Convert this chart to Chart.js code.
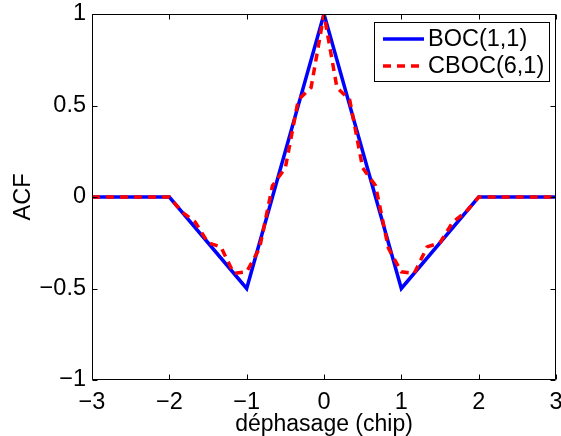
<!DOCTYPE html>
<html>
<head>
<meta charset="utf-8">
<script src="https://cdn.jsdelivr.net/npm/chart.js@4.4.1/dist/chart.umd.min.js"></script>
<style>
  html, body { margin: 0; padding: 0; background: #ffffff; }
  #wrap { width: 561px; height: 436px; }
</style>
</head>
<body>
<div id="wrap"><canvas id="c" width="561" height="436"></canvas></div>
<script>
// ---- data ----
const seriesLabels = ['BOC(1,1)', 'CBOC(6,1)'];
const bocX = [-3, -2, -1, 0, 1, 2, 3];
const bocY = [0, 0, -0.5, 1, -0.5, 0, 0];
const cbocX = [-3, -2, -1.833, -1.667, -1.5, -1.333, -1.167, -1, -0.833, -0.667, -0.5, -0.333, -0.167,
               0, 0.167, 0.333, 0.5, 0.667, 0.833, 1, 1.167, 1.333, 1.5, 1.667, 1.833, 2, 3];
const cbocY = [0, 0, -0.083, -0.136, -0.25, -0.273, -0.417, -0.409, -0.28, 0.061, 0.159, 0.53, 0.598,
               1, 0.598, 0.53, 0.159, 0.061, -0.28, -0.409, -0.417, -0.273, -0.25, -0.136, -0.083, 0, 0];
const xTickLabels = ['\u22123', '\u22122', '\u22121', '0', '1', '2', '3'];
const yTickLabels = ['\u22121', '\u22120.5', '0', '0.5', '1'];
const xTitle = 'déphasage (chip)';
const yTitle = 'ACF';

const FONT = 'Liberation Sans, Arial, Helvetica, sans-serif';
const FS = 23.5;

function toPts(xs, ys) { return xs.map((x, i) => ({ x: x, y: ys[i] })); }

// frame + inward tick marks (MATLAB "box on" style)
const framePlugin = {
  id: 'frame',
  afterDatasetsDraw(chart) {
    const { ctx, chartArea: a, scales } = chart;
    ctx.save();
    ctx.strokeStyle = '#000';
    ctx.lineWidth = 1;
    ctx.setLineDash([]);
    ctx.beginPath();
    const L = Math.round(a.left) + 0.5, R = Math.round(a.right) - 0.5;
    const T = Math.round(a.top) + 0.5, B = Math.round(a.bottom) - 0.5;
    ctx.rect(L, T, R - L, B - T);
    const tl = 5;
    scales.x.ticks.forEach(t => {
      const px = Math.round(scales.x.getPixelForValue(t.value)) + 0.5;
      ctx.moveTo(px, B); ctx.lineTo(px, B - tl);
      ctx.moveTo(px, T); ctx.lineTo(px, T + tl);
    });
    scales.y.ticks.forEach(t => {
      const py = Math.round(scales.y.getPixelForValue(t.value)) + 0.5;
      ctx.moveTo(L, py); ctx.lineTo(L + tl, py);
      ctx.moveTo(R, py); ctx.lineTo(R - tl, py);
    });
    ctx.stroke();
    ctx.restore();
  }
};

// legend box in the upper-right corner of the plot, built from the datasets
const legendPlugin = {
  id: 'boxLegend',
  afterDraw(chart) {
    const { ctx, chartArea: a } = chart;
    const ds = chart.data.datasets;
    ctx.save();
    ctx.font = FS + 'px ' + FONT;
    const boxR = a.right - 7, boxT = a.top + 8;
    const boxW = 175, boxH = 59;
    const boxL = boxR - boxW;
    ctx.fillStyle = '#fff';
    ctx.fillRect(boxL, boxT, boxW, boxH);
    ctx.strokeStyle = '#000';
    ctx.lineWidth = 1;
    ctx.setLineDash([]);
    ctx.strokeRect(Math.round(boxL) + 0.5, Math.round(boxT) + 0.5, boxW, boxH);
    const rows = [boxT + 17, boxT + 44];
    ds.forEach((d, i) => {
      const y = rows[i];
      ctx.beginPath();
      ctx.strokeStyle = d.borderColor;
      ctx.lineWidth = d.borderWidth;
      ctx.setLineDash(d.borderDash || []);
      ctx.lineCap = 'butt';
      ctx.moveTo(boxL + 9, y);
      ctx.lineTo(boxL + 50, y);
      ctx.stroke();
      ctx.setLineDash([]);
      ctx.fillStyle = '#000';
      ctx.textBaseline = 'middle';
      ctx.textAlign = 'left';
      ctx.fillText(d.label, boxL + 54, y + 1);
    });
    ctx.restore();
  }
};

new Chart(document.getElementById('c'), {
  type: 'line',
  data: {
    datasets: [
      {
        label: seriesLabels[0],
        data: toPts(bocX, bocY),
        borderColor: '#0000ff',
        backgroundColor: '#0000ff',
        borderWidth: 3.5,
        pointRadius: 0,
        tension: 0,
        fill: false,
        order: 2
      },
      {
        label: seriesLabels[1],
        data: toPts(cbocX, cbocY),
        borderColor: '#ff0000',
        backgroundColor: '#ff0000',
        borderWidth: 3.5,
        borderDash: [8, 6],
        pointRadius: 0,
        tension: 0,
        fill: false,
        order: 1
      }
    ]
  },
  options: {
    responsive: false,
    animation: false,
    devicePixelRatio: 1,
    layout: { padding: 0 },
    plugins: {
      legend: { display: false },
      tooltip: { enabled: false }
    },
    scales: {
      x: {
        type: 'linear',
        min: -3, max: 3,
        grid: { display: false, drawTicks: false },
        border: { display: false },
        ticks: {
          stepSize: 1,
          padding: 8,
          color: '#000',
          font: { family: FONT, size: FS },
          maxRotation: 0,
          callback: (v, i) => xTickLabels[i]
        },
        title: {
          display: true,
          text: xTitle,
          color: '#000',
          font: { family: FONT, size: 23, lineHeight: 1.0 },
          padding: { top: 0, bottom: 0 }
        },
        afterFit(s) { s.height = 56; s.paddingLeft = 0; s.paddingRight = 5; }
      },
      y: {
        type: 'linear',
        min: -1, max: 1,
        grid: { display: false, drawTicks: false },
        border: { display: false },
        ticks: {
          stepSize: 0.5,
          padding: 6,
          color: '#000',
          font: { family: FONT, size: FS },
          callback: (v, i) => yTickLabels[i]
        },
        title: {
          display: true,
          text: yTitle,
          color: '#000',
          font: { family: FONT, size: FS },
          padding: { top: 9, bottom: 0 }
        },
        afterFit(s) { s.width = 92; s.paddingTop = 14; s.paddingBottom = 0; }
      }
    }
  },
  plugins: [framePlugin, legendPlugin]
});
</script>
</body>
</html>
